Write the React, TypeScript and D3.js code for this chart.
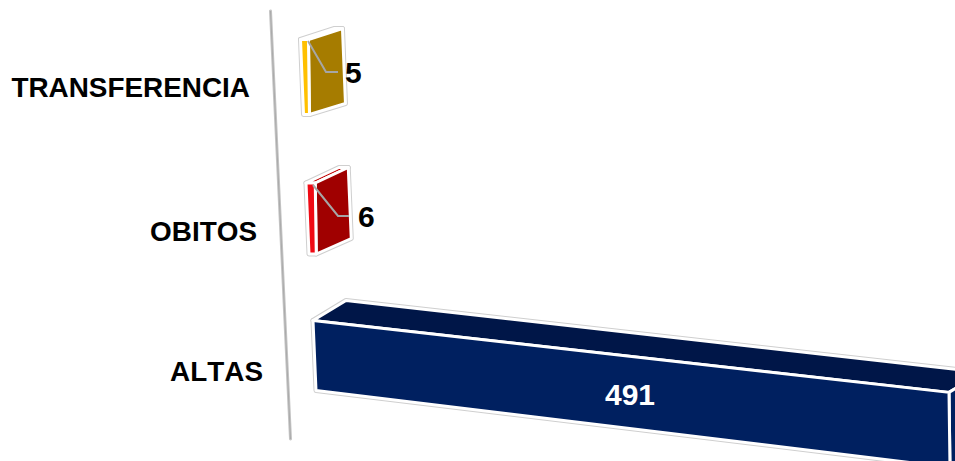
import React from "react";
import * as d3 from "d3";

const categories = ["TRANSFERENCIA", "OBITOS", "ALTAS"];
const values = [5, 6, 491];
const frontColors = ["#FFC000", "#F00A14", "#002060"];
const sideColors = ["#A67C00", "#A00000", "#002060"];
const topColors = ["#FFE699", "#C00000", "#001648"];

type P = [number, number];
// Layout of each 3D bar: front-left top, front-left bottom, depth vector, label anchors
const geometry = [
  { tl: [300.5, 39.5] as P, bl: [303.5, 114.5] as P, depth: [34, -11] as P, tilt: 0, catX: 250, catY: 97, valX: 345, valY: 83, knee: [326, 72] as P, end: [338, 72] as P, lead: [308, 41] as P },
  { tl: [306, 183] as P, bl: [309, 254] as P, depth: [33, -15.5] as P, tilt: 0, catX: 257, catY: 241, valX: 358, valY: 227, knee: [338, 216] as P, end: [349, 216] as P, lead: [313, 185] as P },
  { tl: [313, 320.5] as P, bl: [316, 390.5] as P, depth: [33, -20] as P, tilt: 0.113, catX: 263, catY: 381, valX: 630, valY: 405, knee: null, end: null, lead: null },
];

const widthScale = d3.scaleLinear().domain([0, 491]).range([1.5, 636]);
const poly = d3.line<P>().curve(d3.curveLinearClosed);
const font = "'Liberation Sans', Arial, sans-serif";

export default function App() {
  return (
    <svg width={955} height={461} style={{ position: "absolute", left: 0, top: 0, fontFamily: font, fontKerning: "none" }}>
      <rect width={955} height={461} fill="#fff" />
      <line x1={270.5} y1={11} x2={290.5} y2={439} stroke="#c4c4c4" strokeWidth={3} strokeLinecap="round" />
      <line x1={270.5} y1={11} x2={290.5} y2={439} stroke="#aaa" strokeWidth={1} />
      {categories.map((c, i) => {
        const g = geometry[i];
        const w = widthScale(values[i]);
        const tr: P = [g.tl[0] + w, g.tl[1] + w * g.tilt];
        const br: P = [g.bl[0] + w - 2, g.bl[1] + w * g.tilt * 1.07];
        const back = (p: P): P => [p[0] + g.depth[0], p[1] + g.depth[1]];
        const backBottom: P = [back(br)[0] + 2, back(br)[1]];
        const faces = [
          { pts: [g.tl, tr, back(tr), back(g.tl)], fill: topColors[i] },
          { pts: [tr, back(tr), backBottom, br], fill: sideColors[i] },
          { pts: [g.tl, tr, br, g.bl], fill: frontColors[i] },
        ];
        const isInside = i === 2;
        return (
          <g key={c}>
            {faces.map((f, k) => (
              <path key={k} d={poly(f.pts as P[]) ?? ""} fill="none" stroke="#cfcfcf" strokeWidth={5} strokeLinejoin="round" />
            ))}
            {faces.map((f, k) => (
              <path key={k} d={poly(f.pts as P[]) ?? ""} fill={f.fill} stroke="#fff" strokeWidth={3} strokeLinejoin="round" />
            ))}
            {g.lead && (
              <polyline
                points={[g.lead, g.knee!, g.end!].map((p) => p.join(",")).join(" ")}
                fill="none"
                stroke="#a6a6a6"
                strokeWidth={2}
              />
            )}
            <text x={g.catX} y={g.catY} textAnchor="end" fontSize={27.9} fontWeight={700} fill="#000">
              {c}
            </text>
            <text
              x={g.valX}
              y={g.valY}
              textAnchor={isInside ? "middle" : "start"}
              fontSize={30}
              fontWeight={700}
              fill={isInside ? "#fff" : "#000"}
            >
              {values[i]}
            </text>
          </g>
        );
      })}
    </svg>
  );
}
